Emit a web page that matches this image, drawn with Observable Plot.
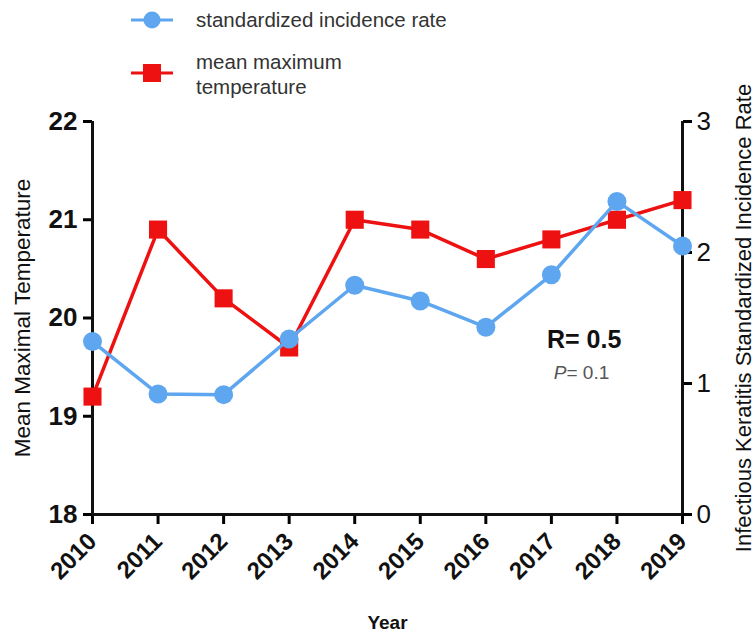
<!DOCTYPE html>
<html>
<head>
<meta charset="utf-8">
<script src="https://cdn.jsdelivr.net/npm/d3@7"></script>
<script src="https://cdn.jsdelivr.net/npm/@observablehq/plot@0.6"></script>
<style>
  html, body { margin: 0; padding: 0; background: #fff; }
  body { width: 755px; height: 639px; overflow: hidden; font-family: "Liberation Sans", Arial, sans-serif; }
  #legend { position: relative; width: 755px; height: 100px; }
  #chart { position: relative; }
</style>
</head>
<body>
<div id="legend"></div>
<div id="chart"></div>
<script>
const years = [2010, 2011, 2012, 2013, 2014, 2015, 2016, 2017, 2018, 2019];
const meanMaxTemp = [19.2, 20.9, 20.2, 19.7, 21.0, 20.9, 20.6, 20.8, 21.0, 21.2];
const incidenceRate = [1.32, 0.92, 0.915, 1.34, 1.75, 1.63, 1.43, 1.83, 2.39, 2.05];
const tempTicks = [18, 19, 20, 21, 22];
const rateTicks = [0, 1, 2, 3];
const seriesNames = ["standardized incidence rate", "mean maximum temperature"];
const stats = { r: "R= 0.5", pLabel: "P", pValue: "= 0.1" };
const titles = { x: "Year", yLeft: "Mean Maximal Temperature", yRight: "Infectious Keratitis Standardized Incidence Rate" };

const RED = "#ee1111";
const BLUE = "#5ea6ef";
const FONT = "Liberation Sans, Arial, sans-serif";

// map rate (0..3) onto temp scale (18..22)
const rateToTemp = r => 18 + r * 4 / 3;

const tempData = years.map((y, i) => ({year: y, value: meanMaxTemp[i]}));
const rateData = years.map((y, i) => ({year: y, value: rateToTemp(incidenceRate[i])}));

// legend (HTML/SVG)
const leg = d3.select("#legend").append("svg").attr("width", 755).attr("height", 100)
  .style("font-family", FONT);
const g1 = leg.append("g").attr("transform", "translate(0,20)");
g1.append("line").attr("x1", 131).attr("x2", 173).attr("y1", 0).attr("y2", 0).attr("stroke", BLUE).attr("stroke-width", 3);
g1.append("circle").attr("cx", 152).attr("cy", 0).attr("r", 8.5).attr("fill", BLUE);
g1.append("text").attr("x", 196).attr("y", 7).attr("font-size", 20.5).attr("fill", "#333").text(seriesNames[0]);
const g2 = leg.append("g").attr("transform", "translate(0,73)");
g2.append("line").attr("x1", 131).attr("x2", 173).attr("y1", 0).attr("y2", 0).attr("stroke", RED).attr("stroke-width", 3);
g2.append("rect").attr("x", 143).attr("y", -9).attr("width", 18).attr("height", 18).attr("fill", RED);
const words = seriesNames[1].split(" ");
g2.append("text").attr("x", 196).attr("y", -4).attr("font-size", 20.5).attr("fill", "#333").text(words.slice(0, 2).join(" "));
g2.append("text").attr("x", 196).attr("y", 21).attr("font-size", 20.5).attr("fill", "#333").text(words.slice(2).join(" "));

const chart = Plot.plot({
  width: 755,
  height: 539,
  marginLeft: 92,
  marginRight: 73,
  marginTop: 21,
  marginBottom: 125,
  style: { fontFamily: FONT, background: "#fff", overflow: "visible" },
  x: { domain: [2010, 2019] },
  y: { domain: [18, 22] },
  marks: [
    Plot.axisX({ticks: years, tickFormat: d => String(d), tickSize: 10, strokeWidth: 3, tickPadding: 13,
      tickRotate: -45, fontSize: 24, fontWeight: "bold", fill: "#111", label: null}),
    Plot.axisY({anchor: "left", ticks: tempTicks, tickFormat: d => String(d), tickSize: 9, strokeWidth: 3, tickPadding: 6,
      fontSize: 26, fontWeight: "bold", fill: "#111", label: null}),
    Plot.axisY({anchor: "right", ticks: rateTicks.map(rateToTemp), tickFormat: (d, i) => String(rateTicks[i]),
      tickSize: 9, strokeWidth: 3, tickPadding: 5, fontSize: 26, fill: "#111", label: null}),
    Plot.ruleX([years[0], years[years.length - 1]], {stroke: "#111", strokeWidth: 3, y1: 18, y2: 22}),
    Plot.ruleY([18], {stroke: "#111", strokeWidth: 3}),
    Plot.lineY(tempData, {x: "year", y: "value", stroke: RED, strokeWidth: 3.5}),
    Plot.dot(tempData, {x: "year", y: "value", symbol: "square", r: 10.2, fill: RED}),
    Plot.lineY(rateData, {x: "year", y: "value", stroke: BLUE, strokeWidth: 3.5}),
    Plot.dot(rateData, {x: "year", y: "value", r: 9.5, fill: BLUE}),
    Plot.text([stats.r], {x: 2017.5, y: 19.78, text: d => d, fontSize: 25, fontWeight: "bold", fill: "#111"}),
    Plot.text([stats.pLabel], {x: 2017.23, y: 19.44, text: d => d, fontSize: 19, fontStyle: "italic", fill: "#555", textAnchor: "end"}),
    Plot.text([stats.pValue], {x: 2017.23, y: 19.44, text: d => d, fontSize: 19, fill: "#555", textAnchor: "start"}),
    Plot.text([titles.yLeft], {frameAnchor: "left", dx: -70, rotate: -90, textAnchor: "middle", text: d => d, fontSize: 22.5, fill: "#111"}),
    Plot.text([titles.yRight], {frameAnchor: "right", dx: 61, rotate: -90, textAnchor: "middle", text: d => d, fontSize: 22, fill: "#111"}),
    Plot.text([titles.x], {frameAnchor: "bottom", dy: 114, text: d => d, fontSize: 19, fontWeight: "bold", fill: "#111"})
  ]
});
document.getElementById("chart").appendChild(chart);
</script>
</body>
</html>
